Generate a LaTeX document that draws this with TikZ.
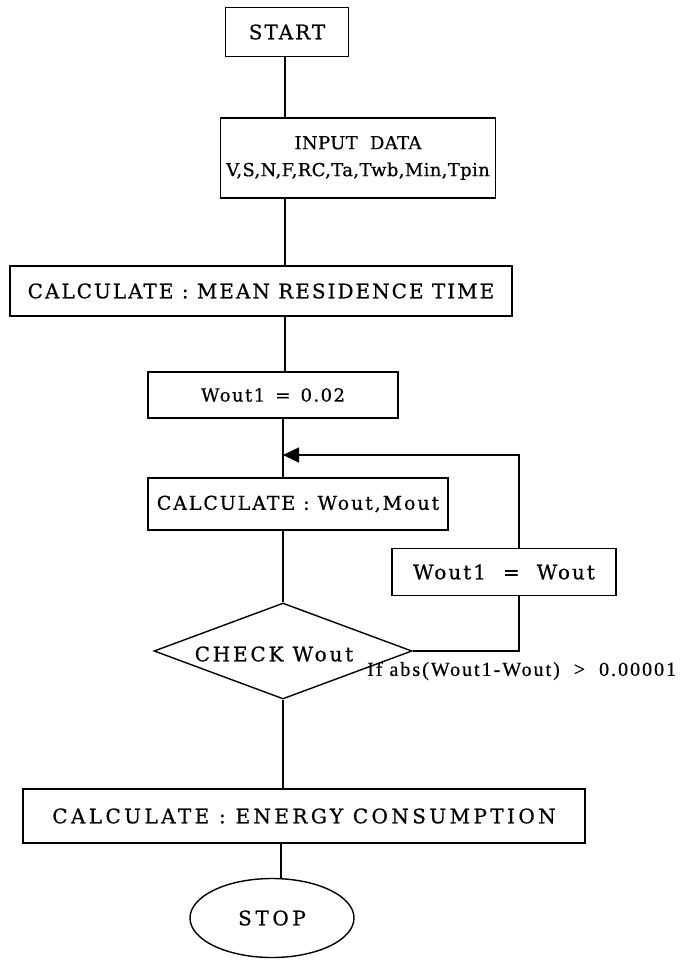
\documentclass[tikz,border=0pt]{standalone}
\usepackage{fontspec}
\setmainfont{DejaVu Serif}[FakeBold=0.6]
\newfontfamily\condfont{Liberation Serif}[FakeBold=0.5]
\usetikzlibrary{arrows.meta,shapes.geometric}

% body text at a given size and letter spacing
\newcommand{\boxfont}[2]{\fontsize{#1}{#1}\selectfont\addfontfeature{LetterSpace=#2}}

\begin{document}
\begin{tikzpicture}[x=1pt,y=-1pt,
  box/.style={draw, line width=1.4pt, rectangle, inner sep=0pt,
              font=\boxfont{20}{10}},
  term/.style={draw, line width=1.4pt, ellipse, inner sep=0pt,
              font=\boxfont{20}{18}},
  decision/.style={draw, line width=1.4pt, diamond, inner sep=0pt, aspect=2.7},
  conn/.style={line width=1.6pt},
  tip/.style={-{Triangle[length=16pt,width=15pt]}}]

\useasboundingbox (0,0) rectangle (681,960);
\fill[white] (0,0) rectangle (681,960);

% guide coordinates for the vertical spine and the feedback loop
\coordinate (spineA) at (285,0);
\coordinate (spineB) at (283,0);
\coordinate (spineC) at (281,0);
\coordinate (loopx)  at (519,0);
\coordinate (loopy)  at (0,455);

% process steps
\node[box, minimum width=123pt, minimum height=49pt] (start) at (287,32) {START};
\node[box, minimum width=275pt, minimum height=80pt, align=center,
      font=\boxfont{18}{2}] (input) at (358,158)
  {INPUT\ \ DATA\\[9pt]V,S,N,F,RC,Ta,Twb,Min,Tpin};
\node[box, minimum width=502pt, minimum height=50pt] (mrt) at (261,291)
  {CALCULATE : MEAN RESIDENCE TIME};
\node[box, minimum width=250pt, minimum height=46pt, font=\boxfont{18}{8}] (init) at (273,395)
  {Wout1 \,=\, 0.02};
\node[box, minimum width=300pt, minimum height=52pt, font=\boxfont{19}{10}] (calc) at (298,504)
  {CALCULATE : Wout,Mout};
\node[box, minimum width=224pt, minimum height=47pt] (upd) at (504,572)
  {Wout1\hspace{17pt}=\hspace{17pt}Wout};
\node[decision, minimum width=258pt, minimum height=96pt] (check) at (283,651) {};
\node[inner sep=0pt, font=\boxfont{20}{14}] (checktext) at (274,654) {CHECK Wout};
\node[anchor=west, inner sep=0pt,
      font=\condfont\fontsize{20}{20}\selectfont\addfontfeature{LetterSpace=10}] (cond) at (367,671)
  {If abs(Wout1-Wout)\hspace{14pt}>\hspace{14pt}0.00001};
\node[box, minimum width=562pt, minimum height=54pt, font=\boxfont{20}{17}] (energy) at (304,816)
  {CALCULATE : ENERGY CONSUMPTION};
\node[term, minimum width=164pt, minimum height=79pt] (stop) at (272,918) {STOP};

% main flow
\draw[conn] (start.south -| spineA) -- (input.north -| spineA);
\draw[conn] (input.south -| spineA) -- (mrt.north -| spineA);
\draw[conn] (mrt.south -| spineA) -- (init.north -| spineA);
\draw[conn] (init.south -| spineB) -- (calc.north -| spineB);
\draw[conn] (calc.south -| spineB) -- (check.north);
\draw[conn] (check.south) -- (energy.north -| check.south);
\draw[conn] (energy.south -| spineC) -- (spineC |- stop.north);

% iteration loop
\draw[conn] (check.east) -- (check.east -| loopx) -- (upd.south -| loopx);
\draw[conn, tip] (upd.north -| loopx) -- (loopx |- loopy) -- (loopy -| spineB);
\end{tikzpicture}
\end{document}
